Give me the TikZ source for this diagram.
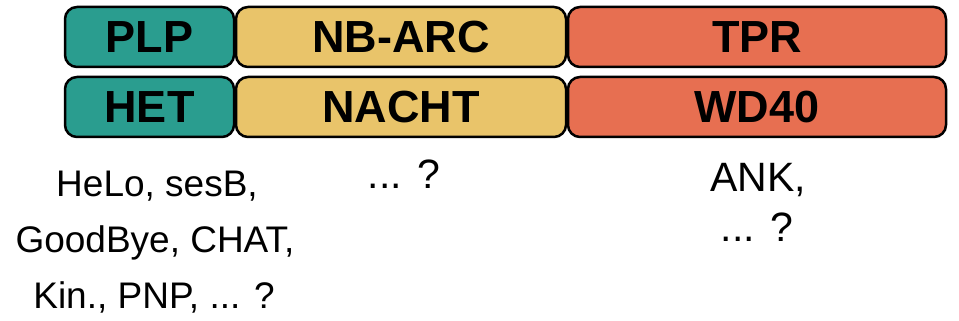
\documentclass[tikz,border=0pt]{standalone}
\usepackage{fontspec}
\setmainfont{Liberation Sans}
\definecolor{cteal}{HTML}{2A9D8F}
\definecolor{cyell}{HTML}{E9C46A}
\definecolor{cred}{HTML}{E76F51}
\tikzset{
  dom/.style={draw=black, line width=2.5pt, rounded corners=12pt, minimum height=60pt, inner sep=0pt,
    font=\fontsize{45}{50}\selectfont\bfseries},
  lbl/.style={inner sep=0pt, anchor=base},
  smallt/.style={lbl, font=\fontsize{37}{44}\selectfont},
  bigt/.style={lbl, font=\fontsize{41}{48}\selectfont}
}
\begin{document}
\begin{tikzpicture}[x=1pt,y=1pt]
\useasboundingbox (0,0) rectangle (959,321);
% row 1 (y centre 321-37=284)
\node[dom, fill=cteal, minimum width=169pt] (plp) at (149.5,284) {PLP};
\node[dom, fill=cyell, minimum width=330pt] (nbarc) at (401,284) {NB-ARC};
\node[dom, fill=cred, minimum width=378pt] (tpr) at (757,284) {TPR};
% row 2 (y centre 321-107=214)
\node[dom, fill=cteal, minimum width=169pt] (het) at (149.5,214) {HET};
\node[dom, fill=cyell, minimum width=330pt] (nacht) at (401,214) {NACHT};
\node[dom, fill=cred, minimum width=378pt] (wd40) at (757,214) {WD40};
% texts
\node[smallt] (l1) at (157,124) {HeLo, sesB,};
\node[smallt] (l2) at (155,68) {GoodBye, CHAT,};
\node[smallt] (l3) at (154,12) {Kin., PNP, ... ?};
\node[bigt] (m1) at (404,132) {... ?};
\node[bigt] (r1) at (758,129) {ANK,};
\node[bigt] (r2) at (757,79) {... ?};
\end{tikzpicture}
\end{document}
